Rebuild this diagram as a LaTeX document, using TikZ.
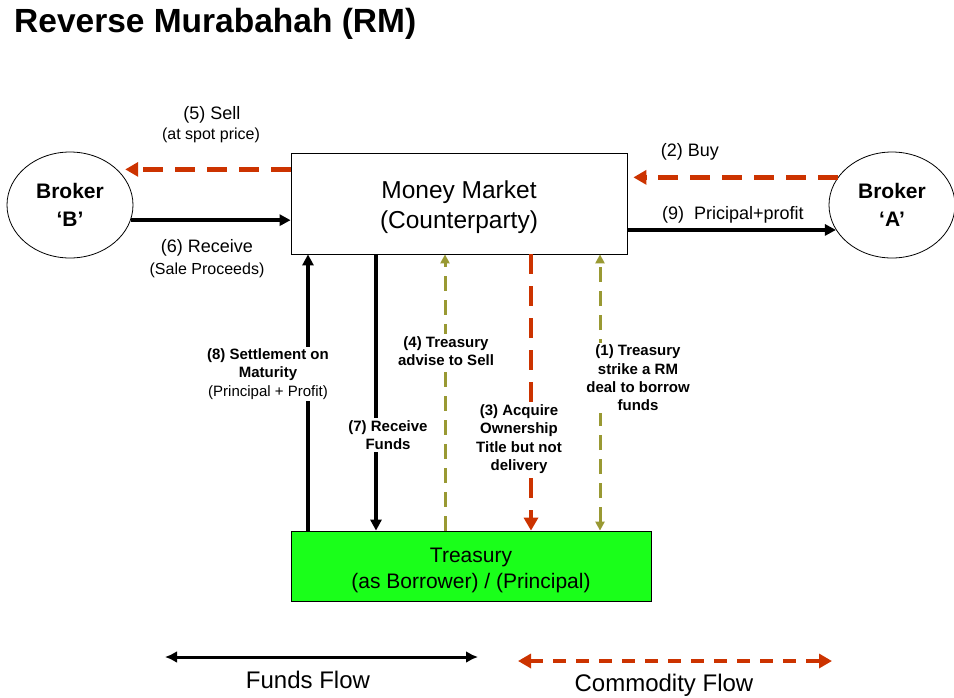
\documentclass[tikz,border=0pt]{standalone}
\usepackage{fontspec}
\setmainfont{Liberation Sans}
\usetikzlibrary{arrows.meta,shapes.geometric}
\definecolor{commred}{RGB}{204,51,0}
\definecolor{advolive}{RGB}{153,153,51}
\definecolor{treasgreen}{RGB}{26,255,26}

\begin{document}
\begin{tikzpicture}[x=1pt,y=-1pt,
  funds/.style={line width=3.5pt,-{Triangle[length=11pt,width=11pt]}},
  commodity/.style={commred,line width=4.5pt,dash pattern=on 20pt off 12pt,-{Triangle[length=13pt,width=14pt]}},
  advise/.style={advolive,line width=3pt,dash pattern=on 15pt off 9pt,-{Triangle[length=9pt,width=9pt]}},
  lbl/.style={font=\fontsize{18}{21}\selectfont},
  sublbl/.style={font=\fontsize{16}{19}\selectfont},
  steplbl/.style={fill=white,inner sep=2pt,align=center,font=\fontsize{15}{18.3}\selectfont\bfseries},
  broker/.style={draw,line width=0.8pt,ellipse,minimum width=126pt,minimum height=106pt,inner sep=0pt,align=center,font=\fontsize{21}{28}\selectfont\bfseries}]

\useasboundingbox (0,0) rectangle (954,697);

\node[anchor=west,inner sep=0pt,font=\fontsize{33.5}{40}\selectfont\bfseries] (title) at (14,24) {Reverse Murabahah (RM)};

\node[draw,line width=0.8pt,minimum width=336pt,minimum height=101pt] (mm) at (459,203.5) {};
\node[align=center,font=\fontsize{24.5}{30}\selectfont] (mmtxt) at ([yshift=-4pt]mm.center) {Money Market\\(Counterparty)};
\node[draw,line width=0.8pt,fill=treasgreen,minimum width=360pt,minimum height=70pt] (tr) at (471,566) {};
\node[align=center,font=\fontsize{21}{26}\selectfont] (trtxt) at ([yshift=-4pt]tr.center) {Treasury\\(as Borrower) / (Principal)};
\node[broker] (bB) at (70,205) {Broker\\‘B’};
\node[broker] (bA) at (892,205) {Broker\\‘A’};

% brokers
\draw[commodity,shorten >=8pt] (mm.west |- bB.37) -- (bB.37);
\draw[funds] (bB.-14) -- (mm.west |- bB.-14);
\draw[commodity,shorten >=6pt] (bA.153) -- (mm.east |- bA.153);
\draw[funds] (mm.east |- bA.204) -- (bA.204);

\node[lbl] (l5) at (212,115) {(5) Sell};
\node[sublbl] (l5b) at (211,135) {(at spot price)};
\node[lbl] (l6) at (207,248) {(6) Receive};
\node[sublbl] (l6b) at (207,270) {(Sale Proceeds)};
\node[lbl] (l2) at (690,152) {(2) Buy};
\node[lbl] (l9) at (733,215) {(9)~ Pricipal+profit};

% treasury
\coordinate (v8) at (308,0);
\coordinate (v7) at (376,0);
\coordinate (v4) at (445,0);
\coordinate (v3) at (531,0);
\coordinate (v1) at (600,0);

\draw[funds] (tr.north -| v8) -- (mm.south -| v8);
\draw[funds] (mm.south -| v7) -- (tr.north -| v7);
\draw[advise] (tr.north -| v4) -- (mm.south -| v4);
\draw[commodity,line width=4pt] (mm.south -| v3) -- (tr.north -| v3);
\draw[advise,{Triangle[length=9pt,width=9pt]}-{Triangle[length=9pt,width=9pt]}] (tr.north -| v1) -- (mm.south -| v1);

\node[steplbl] (l8) at (268,374) {(8) Settlement on\\Maturity\\\mdseries(Principal + Profit)};
\node[steplbl] (l7) at (388,435) {(7) Receive\\Funds};
\node[steplbl] (l4) at (446,351) {(4) Treasury\\advise to Sell};
\node[steplbl] (l3) at (519,439) {(3) Acquire\\Ownership\\Title but not\\delivery};
\node[steplbl] (l1) at (638,378) {(1) Treasury\\strike a RM\\deal to borrow\\funds};

% legend
\coordinate (ff1) at (165,657);
\coordinate (ff2) at (478,657);
\coordinate (cf1) at (518,661);
\coordinate (cf2) at (832,661);
\draw[line width=3pt,{Latex[length=12pt,width=12pt]}-{Latex[length=12pt,width=12pt]}] (ff1) -- (ff2);
\draw[commodity,line width=4pt,dash pattern=on 13pt off 10pt,{Triangle[length=13pt,width=14pt]}-{Triangle[length=13pt,width=14pt]}] (cf1) -- (cf2);
\node[font=\fontsize{24}{28}\selectfont] (ffl) at (308,680) {Funds Flow};
\node[font=\fontsize{24}{28}\selectfont] (cfl) at (664,685) {Commodity Flow};

\end{tikzpicture}
\end{document}
